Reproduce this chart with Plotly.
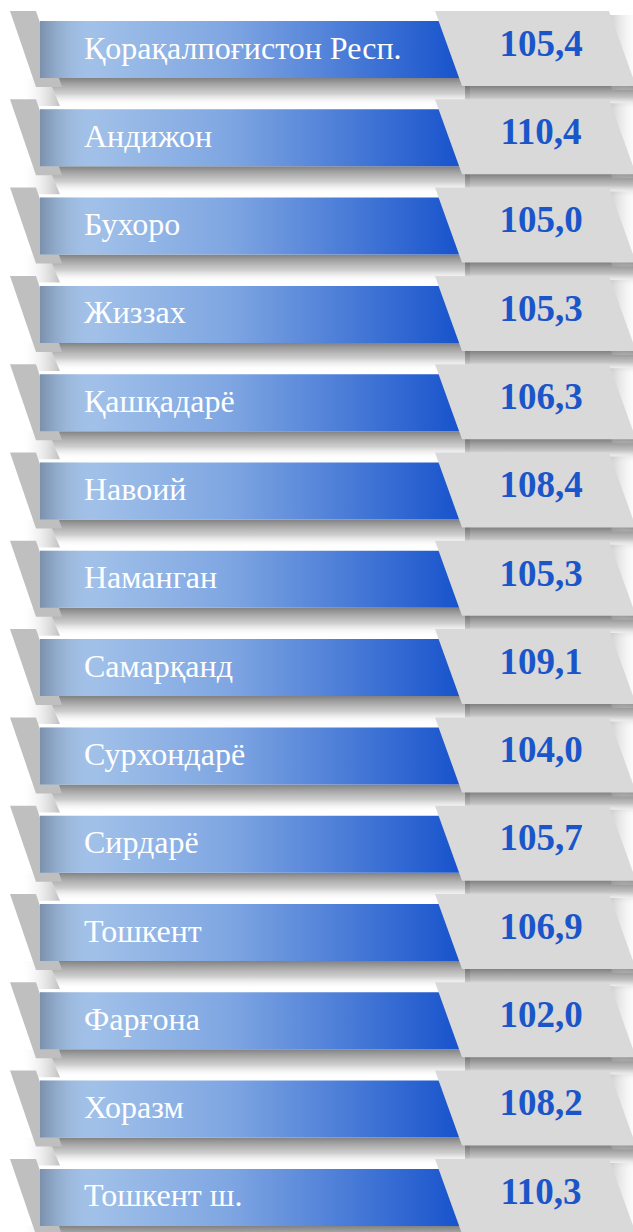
import plotly.graph_objects as go

REGIONS = [
    "Қорақалпоғистон Респ.", "Андижон", "Бухоро", "Жиззах", "Қашқадарё",
    "Навоий", "Наманган", "Самарқанд", "Сурхондарё", "Сирдарё",
    "Тошкент", "Фарғона", "Хоразм", "Тошкент ш.",
]
VALUES = [105.4, 110.4, 105.0, 105.3, 106.3, 108.4, 105.3,
          109.1, 104.0, 105.7, 106.9, 102.0, 108.2, 110.3]

W, H = 633, 1232
FIRST_TOP, STEP, BAR_H = 21, 88.3, 57

BLUE_SCALE = [[0, "#aecbeb"], [0.45, "#7fa6e2"], [1, "#1652cc"]]
# vertical gradients come out bottom -> top on the reversed y axis
SHADOW_SCALE = [[0, "rgba(255,255,255,0)"], [0.45, "rgba(165,165,165,0.55)"],
                [1, "rgba(115,115,115,0.9)"]]
BOX_SHADOW_SCALE = [[0, "rgba(255,255,255,0)"], [0.5, "rgba(150,150,150,0.6)"],
                    [1, "rgba(100,100,100,0.9)"]]


def poly(xs, ys, color=None, gradient=None):
    """Closed polygon in pixel coordinates (y axis runs downwards)."""
    kw = dict(x=xs + xs[:1], y=ys + ys[:1], mode="lines", fill="toself",
              line=dict(width=0), hoverinfo="skip", showlegend=False)
    if gradient:
        kw["fillgradient"] = gradient
        kw["fillcolor"] = "rgba(0,0,0,0)"
    else:
        kw["fillcolor"] = color
    return go.Scatter(**kw)


def row_traces(top: float) -> list:
    bot = top + BAR_H
    traces = []
    # soft shadows under the bar and the value box
    traces.append(poly([48, 470, 470, 60], [bot, bot, bot + 28, bot + 28],
                       gradient=dict(type="vertical", colorscale=SHADOW_SCALE)))
    traces.append(poly([20, 48, 60, 30], [bot, bot, bot + 28, bot + 28],
                       gradient=dict(type="horizontal",
                                     colorscale=[[0, "rgba(255,255,255,0)"],
                                                 [1, "rgba(150,150,150,0.6)"]])))
    traces.append(poly([465, 633, 633, 465], [bot + 6, bot + 6, bot + 32, bot + 32],
                       gradient=dict(type="vertical", colorscale=BOX_SHADOW_SCALE)))
    traces.append(poly([596, 633, 633, 612], [top - 6, top - 6, bot + 12, bot + 12],
                       gradient=dict(type="horizontal",
                                     colorscale=[[0, "rgba(125,125,125,0.75)"],
                                                 [1, "rgba(235,235,235,0.2)"]])))
    # grey tab on the left
    traces.append(poly([10, 36, 62, 36], [top - 10, top - 10, bot + 9, bot + 9], "#bfbfbf"))
    # blue gradient bar
    traces.append(poly([40, 462, 462, 40], [top, top, bot, bot],
                       gradient=dict(type="horizontal", colorscale=BLUE_SCALE)))
    # shade on the left end of the bar
    traces.append(poly([40, 95, 95, 40], [top, top, bot, bot],
                       gradient=dict(type="horizontal",
                                     colorscale=[[0, "rgba(80,95,120,0.55)"],
                                                 [1, "rgba(160,190,230,0)"]])))
    # grey value box
    traces.append(poly([435, 609, 636, 462], [top - 10, top - 10, bot + 8, bot + 8], "#d9d9d9"))
    return traces


fig = go.Figure()
tops = [FIRST_TOP + i * STEP for i in range(len(REGIONS))]

for top in tops:
    for tr in row_traces(top):
        fig.add_trace(tr)

mid = [t + BAR_H / 2 for t in tops]
fig.add_trace(go.Scatter(
    x=[84] * len(REGIONS), y=[m + 1 for m in mid], mode="text", text=REGIONS,
    textposition="middle right", hoverinfo="skip", showlegend=False,
    textfont=dict(family="Liberation Serif, Times New Roman, serif", size=32, color="white"),
))
fig.add_trace(go.Scatter(
    x=[541] * len(VALUES), y=[m - 3 for m in mid], mode="text",
    text=[f"<b>{v:.1f}</b>".replace(".", ",") for v in VALUES],
    textposition="middle center", hoverinfo="skip", showlegend=False,
    textfont=dict(family="Liberation Serif, Times New Roman, serif", size=37, color="#1a55c9"),
))

fig.update_xaxes(range=[0, W], visible=False, fixedrange=True)
fig.update_yaxes(range=[H, 0], visible=False, fixedrange=True)
fig.update_layout(width=W, height=H, margin=dict(l=0, r=0, t=0, b=0),
                  plot_bgcolor="white", paper_bgcolor="white")

# drop the default 8px body margin so the figure fills the window
fig.write_html("out.html", config={"displayModeBar": False},
               post_script="document.body.style.margin='0';"
                           "document.body.style.overflow='hidden';")
